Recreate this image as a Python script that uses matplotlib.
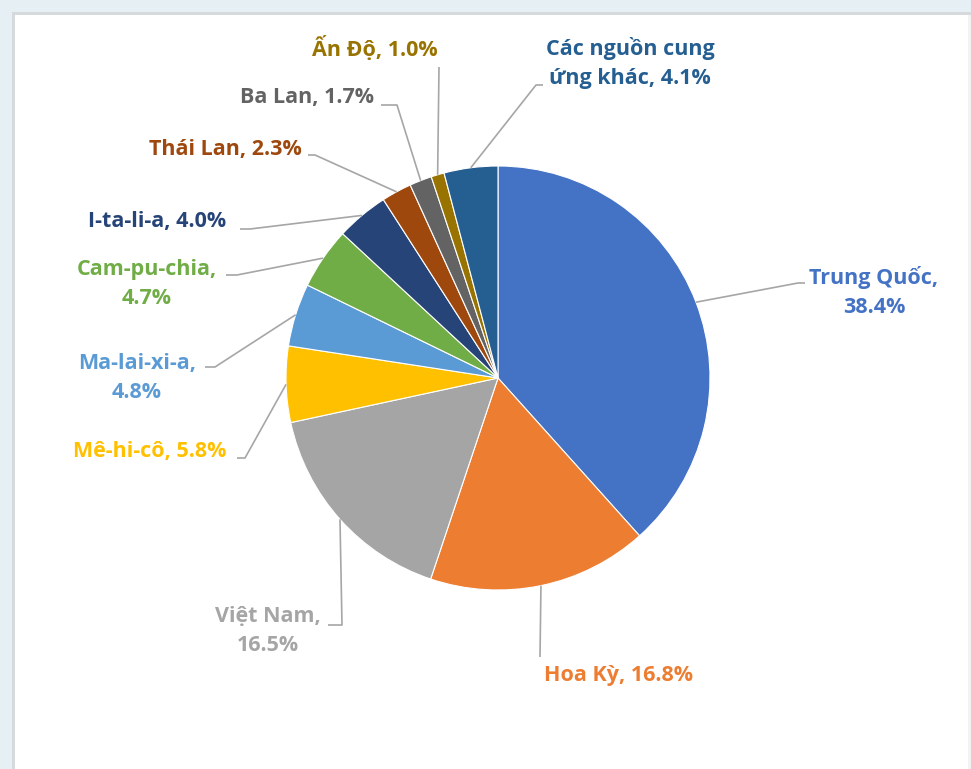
import numpy as np
import matplotlib
matplotlib.use("Agg")
import matplotlib.pyplot as plt
from matplotlib.patches import Rectangle

plt.rcParams['font.family'] = ['Open Sans', 'DejaVu Sans']

# Shares of supply sources (%)
sources = ["Trung Quốc", "Hoa Kỳ", "Việt Nam", "Mê-hi-cô", "Ma-lai-xi-a",
           "Cam-pu-chia", "I-ta-li-a", "Thái Lan", "Ba Lan", "Ấn Độ",
           "Các nguồn cung ứng khác"]
shares = [38.4, 16.8, 16.5, 5.8, 4.8, 4.7, 4.0, 2.3, 1.7, 1.0, 4.1]
label_texts = ["Trung Quốc,\n38.4%", "Hoa Kỳ, 16.8%", "Việt Nam,\n16.5%",
               "Mê-hi-cô, 5.8%", "Ma-lai-xi-a,\n4.8%", "Cam-pu-chia,\n4.7%",
               "I-ta-li-a, 4.0%", "Thái Lan, 2.3%", "Ba Lan, 1.7%",
               "Ấn Độ, 1.0%", "Các nguồn cung\nứng khác, 4.1%"]
colors = ["#4472C4", "#ED7D31", "#A5A5A5", "#FFC000", "#5B9BD5", "#70AD47",
          "#264478", "#9E480E", "#636363", "#997300", "#255E91"]

W, H = 971, 769
fig = plt.figure(figsize=(W / 100, H / 100), dpi=100)
fig.patch.set_facecolor("white")

# Work in pixel-like coordinates (y measured upward)
ax = fig.add_axes([0, 0, 1, 1])
ax.set_xlim(0, W)
ax.set_ylim(0, H)
ax.set_aspect("equal")
ax.axis("off")

# Window frame
ax.add_patch(Rectangle((0, 0), 12, H, color="#e6f0f4", lw=0, zorder=0))
ax.add_patch(Rectangle((0, H - 12), W, 12, color="#e6f0f4", lw=0, zorder=0))
ax.add_patch(Rectangle((12, 0), 2.5, H - 12, color="#d6dadc", lw=0, zorder=0))
ax.add_patch(Rectangle((12, H - 14.5), W - 12, 2.5, color="#d6dadc", lw=0, zorder=0))
ax.add_patch(Rectangle((W - 3, 0), 3, H - 14.5, color="#f2f2f2", lw=0, zorder=0))

cx, cy, R = 498, H - 378, 212
wedges, _ = ax.pie(shares, colors=colors, startangle=90, counterclock=False,
                   center=(cx, cy), radius=R, frame=True,
                   wedgeprops=dict(edgecolor="white", linewidth=0.8))
ax.set_xlim(0, W)
ax.set_ylim(0, H)
ax.axis("off")

# Label layout: text centre (px from top-left) and leader end / elbow (px)
label_pos = [(874, 292), (618, 676), (268, 631), (150, 452), (137, 378),
             (147, 284), (157, 221), (225, 150), (307, 98), (375, 48),
             (630, 63)]
leader_bend = [(798, 283), (540, 657), (342, 625), (245, 458), (215, 367),
               (237, 275), (250, 229), (315, 155), (397, 105), (439, 67),
               (536, 85)]
leader_tail = [(805, 283), None, (328, 625), (237, 458), (205, 367),
               (226, 275), (240, 229), (308, 155), (381, 105), None,
               (543, 85)]

for w, txt, col, (lx, ly), bend, tail in zip(wedges, label_texts, colors,
                                             label_pos, leader_bend, leader_tail):
    mid = np.deg2rad((w.theta1 + w.theta2) / 2)
    sx, sy = cx + R * np.cos(mid), cy + R * np.sin(mid)
    xs = [sx, bend[0]]
    ys = [sy, H - bend[1]]
    if tail is not None:
        xs.append(tail[0])
        ys.append(H - tail[1])
    ax.plot(xs, ys, color="#a6a6a6", lw=1.2, solid_capstyle="butt", zorder=3)
    ax.text(lx, H - ly, txt, ha="center", va="center", color=col,
            fontsize=15.5, fontweight="bold", linespacing=1.55, zorder=4)

fig.savefig("out.png", dpi=100, facecolor="white")
